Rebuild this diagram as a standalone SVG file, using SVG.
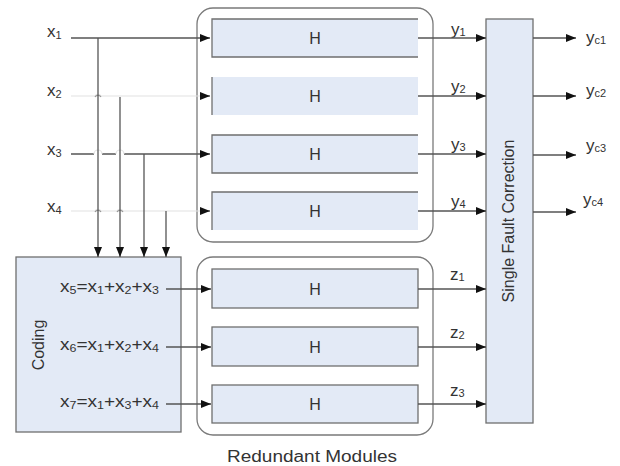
<svg xmlns="http://www.w3.org/2000/svg" width="620" height="466" viewBox="0 0 620 466">
<style>
  .t{font-family:"Liberation Sans",Arial,sans-serif;fill:#333;}
  .lbl{font-size:16px;}
  .big{font-size:17px;}
  .sub{font-size:10.5px;}
  .sub2{font-size:11px;}
  .h{font-size:16px;text-anchor:middle;}
  .box{fill:#e3eaf6;stroke:none;}
  .bd{fill:none;stroke:#6f6f6f;stroke-width:1.3;}
  .cont{fill:none;stroke:#7a7a7a;stroke-width:1.3;}
  .ln{fill:none;stroke:#555;stroke-width:1.3;}
  .faint{fill:none;stroke:#e2e2e2;stroke-width:1.2;}
</style>
<defs>
  <marker id="ah" markerUnits="userSpaceOnUse" markerWidth="10" markerHeight="8" refX="10" refY="4" orient="auto">
    <path d="M0,0 L10,4 L0,8 Z" fill="#111"/>
  </marker>
</defs>

<!-- Containers -->
<g id="redundant-upper"><rect class="cont" x="197" y="8" width="236" height="234" rx="16"/></g>
<g id="redundant-lower"><rect class="cont" x="197" y="257" width="236" height="178" rx="16"/></g>

<!-- Upper H modules -->
<g id="H1">
  <rect class="box" x="212" y="19" width="206" height="38"/>
  <path class="bd" d="M418,19 H212 V57 H418"/>
  <text class="t h" x="315" y="44">H</text>
</g>
<g id="H2">
  <rect class="box" x="212" y="77" width="206" height="38"/>
  <path class="bd" d="M212,77 V115"/>
  <text class="t h" x="315" y="102">H</text>
</g>
<g id="H3">
  <rect class="box" x="212" y="135" width="206" height="38"/>
  <path class="bd" d="M418,135 H212 V173 H418"/>
  <text class="t h" x="315" y="160">H</text>
</g>
<g id="H4">
  <rect class="box" x="212" y="192" width="206" height="38"/>
  <path class="bd" d="M418,192 H212 V230"/>
  <text class="t h" x="315" y="217">H</text>
</g>

<!-- Lower H modules -->
<g id="H5">
  <rect class="bd" style="fill:#e3eaf6" x="212" y="269" width="206" height="39"/>
  <text class="t h" x="315" y="295">H</text>
</g>
<g id="H6">
  <rect class="bd" style="fill:#e3eaf6" x="212" y="327" width="206" height="39"/>
  <text class="t h" x="315" y="353">H</text>
</g>
<g id="H7">
  <rect class="bd" style="fill:#e3eaf6" x="212" y="385" width="206" height="38"/>
  <text class="t h" x="315" y="410">H</text>
</g>

<!-- Coding block -->
<g id="coding">
  <rect class="bd" style="fill:#e3eaf6" x="16" y="257" width="165" height="175"/>
  <text class="t lbl" x="43.5" y="345" text-anchor="middle" transform="rotate(-90 43.5 345)">Coding</text>
  <text class="t lbl" x="60" y="292" textLength="99" lengthAdjust="spacingAndGlyphs">x<tspan class="sub" dy="1.5">5</tspan><tspan dy="-1.5">=x</tspan><tspan class="sub" dy="1.5">1</tspan><tspan dy="-1.5">+x</tspan><tspan class="sub" dy="1.5">2</tspan><tspan dy="-1.5">+x</tspan><tspan class="sub" dy="1.5">3</tspan></text>
  <text class="t lbl" x="60" y="350" textLength="99" lengthAdjust="spacingAndGlyphs">x<tspan class="sub" dy="1.5">6</tspan><tspan dy="-1.5">=x</tspan><tspan class="sub" dy="1.5">1</tspan><tspan dy="-1.5">+x</tspan><tspan class="sub" dy="1.5">2</tspan><tspan dy="-1.5">+x</tspan><tspan class="sub" dy="1.5">4</tspan></text>
  <text class="t lbl" x="60" y="407" textLength="99" lengthAdjust="spacingAndGlyphs">x<tspan class="sub" dy="1.5">7</tspan><tspan dy="-1.5">=x</tspan><tspan class="sub" dy="1.5">1</tspan><tspan dy="-1.5">+x</tspan><tspan class="sub" dy="1.5">3</tspan><tspan dy="-1.5">+x</tspan><tspan class="sub" dy="1.5">4</tspan></text>
</g>

<!-- Single fault correction -->
<g id="sfc">
  <rect class="bd" style="fill:#e3eaf6" x="486" y="19" width="47" height="404"/>
  <text class="t lbl" x="514" y="221" text-anchor="middle" transform="rotate(-90 514 221)">Single Fault Correction</text>
</g>

<!-- Labels -->
<g id="labels" class="t">
  <text class="big" x="47" y="37">x<tspan class="sub2" dy="2">1</tspan></text>
  <text class="big" x="47" y="96">x<tspan class="sub2" dy="2">2</tspan></text>
  <text class="big" x="47" y="155">x<tspan class="sub2" dy="2">3</tspan></text>
  <text class="big" x="47" y="212">x<tspan class="sub2" dy="2">4</tspan></text>

  <text class="big" x="451" y="35">y<tspan class="sub2" dy="1">1</tspan></text>
  <text class="big" x="451" y="92">y<tspan class="sub2" dy="1">2</tspan></text>
  <text class="big" x="451" y="150">y<tspan class="sub2" dy="1">3</tspan></text>
  <text class="big" x="451" y="207">y<tspan class="sub2" dy="1">4</tspan></text>

  <text class="big" x="450" y="280">z<tspan class="sub2" dy="1">1</tspan></text>
  <text class="big" x="450" y="338">z<tspan class="sub2" dy="1">2</tspan></text>
  <text class="big" x="450" y="396">z<tspan class="sub2" dy="1">3</tspan></text>

  <text class="big" x="586" y="43">y<tspan class="sub2" dy="1">c1</tspan></text>
  <text class="big" x="586" y="96">y<tspan class="sub2" dy="1">c2</tspan></text>
  <text class="big" x="586" y="151">y<tspan class="sub2" dy="1">c3</tspan></text>
  <text class="big" x="583" y="205">y<tspan class="sub2" dy="1">c4</tspan></text>

  <text class="lbl" x="312" y="462" text-anchor="middle" textLength="170" lengthAdjust="spacingAndGlyphs">Redundant Modules</text>
</g>

<!-- Connectors -->
<g id="connectors">
  <!-- inputs to upper H -->
  <path class="ln" d="M71,38 H210" marker-end="url(#ah)"/>
  <path class="faint" d="M71,96 H95 A3.5,3.5 0 0 1 101,96 H202"/>
  <path class="ln" d="M202,96 H210" marker-end="url(#ah)"/>
  <path class="ln" d="M71,154 H94 M102,154 H116 M124,154 H210" marker-end="url(#ah)"/>
  <path class="faint" d="M94,154 A4,4 0 0 1 102,154 M116,154 A4,4 0 0 1 124,154"/>
  <path class="faint" d="M71,211 H95 A3.5,3.5 0 0 1 101,211 H117 A3.5,3.5 0 0 1 123,211 H202"/>
  <path class="ln" d="M202,211 H210" marker-end="url(#ah)"/>
  <path class="ln" style="stroke:#999" d="M95,97 A3.5,3.5 0 0 1 101,97 M95,212 A3.5,3.5 0 0 1 101,212 M117,212 A3.5,3.5 0 0 1 123,212"/>

  <!-- verticals into coding -->
  <path class="ln" d="M98,38 V257" marker-end="url(#ah)"/>
  <path class="ln" d="M120,97 V257" marker-end="url(#ah)"/>
  <path class="ln" d="M144,154 V257" marker-end="url(#ah)"/>
  <path class="ln" d="M166,211 V257" marker-end="url(#ah)"/>

  <!-- coding to lower H -->
  <path class="ln" d="M166,289 H211" marker-end="url(#ah)"/>
  <path class="ln" d="M166,347 H211" marker-end="url(#ah)"/>
  <path class="ln" d="M166,404 H211" marker-end="url(#ah)"/>

  <!-- H outputs to SFC -->
  <path class="ln" d="M418,38 H486" marker-end="url(#ah)"/>
  <path class="ln" d="M418,96 H486" marker-end="url(#ah)"/>
  <path class="ln" d="M418,154 H486" marker-end="url(#ah)"/>
  <path class="ln" d="M418,211 H486" marker-end="url(#ah)"/>
  <path class="ln" d="M418,289 H486" marker-end="url(#ah)"/>
  <path class="ln" d="M418,347 H486" marker-end="url(#ah)"/>
  <path class="ln" d="M418,404 H486" marker-end="url(#ah)"/>

  <!-- SFC outputs -->
  <path class="ln" d="M533,38 H576" marker-end="url(#ah)"/>
  <path class="ln" d="M533,96 H576" marker-end="url(#ah)"/>
  <path class="ln" d="M533,155 H576" marker-end="url(#ah)"/>
  <path class="ln" d="M533,212 H576" marker-end="url(#ah)"/>
</g>
</svg>
